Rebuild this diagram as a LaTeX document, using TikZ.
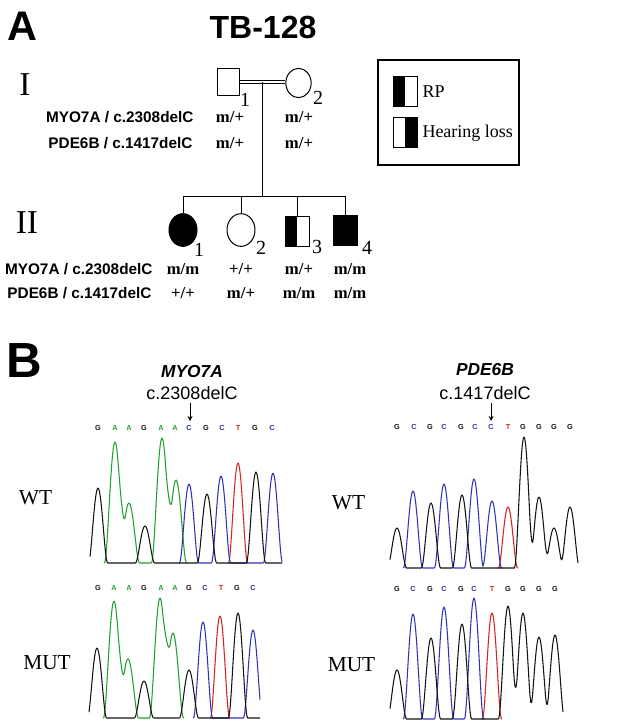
\documentclass[tikz,border=0pt]{standalone}
\usepackage{fontspec}
\setmainfont{Liberation Serif}
\setsansfont{Liberation Sans}
\usetikzlibrary{shapes.geometric, calc}

\definecolor{seqG}{RGB}{20,20,20}
\definecolor{seqA}{RGB}{35,160,45}
\definecolor{seqC}{RGB}{50,50,185}
\definecolor{seqT}{RGB}{215,35,35}

\begin{document}
\begin{tikzpicture}[x=0.75pt, y=-0.75pt, >=stealth, line width=0.75pt,
	declare function={bp(\vv)=max(0,1-\vv*\vv);
		pk(\xx,\cc,\hh)=\hh*bp((\xx-\cc)/9.5)*bp((\xx-\cc)/9.5);
		pw(\xx,\cc,\hh)=\hh*bp((\xx-\cc)/10.5)*bp((\xx-\cc)/10.5);},
	male/.style={draw, rectangle, inner sep=0pt, minimum width=18pt, minimum height=22.5pt},
	female/.style={draw, ellipse, inner sep=0pt, minimum width=21pt, minimum height=24.5pt},
	rp/.style={male, path picture={\fill (path picture bounding box.south west) rectangle (path picture bounding box.north);}},
	hl/.style={male, path picture={\fill (path picture bounding box.south) rectangle (path picture bounding box.north east);}},
	panel/.style={font=\sffamily\bfseries\fontsize{31}{31}\selectfont, inner sep=0pt},
	gen/.style={font=\fontsize{25}{25}\selectfont, inner sep=0pt},
	num/.style={font=\fontsize{15}{15}\selectfont, inner sep=0pt},
	locus/.style={font=\sffamily\bfseries\fontsize{11.5}{12}\selectfont, inner sep=0pt, anchor=east},
	geno/.style={font=\bfseries\fontsize{12.5}{12}\selectfont, inner sep=0pt},
	legtext/.style={font=\fontsize{13.5}{14}\selectfont, inner sep=0pt, anchor=west},
	base/.style={font=\sffamily\bfseries\fontsize{5.5}{6}\selectfont, inner sep=0pt},
	row/.style={font=\fontsize{16}{16}\selectfont, inner sep=0pt},
	trace/.style={line width=0.8pt, line join=round}]

	\useasboundingbox (0,0) rectangle (637,725);

	% ==================== A: pedigree ====================
	\node[panel] (A) at (22,26) {A};
	\node[panel, font=\sffamily\bfseries\fontsize{24}{24}\selectfont] (title) at (263,27.5) {TB-128};

	% generation I
	\node[gen] (genI) at (25,85) {I};
	\node[male, minimum width=16pt, minimum height=20.5pt] (I1) at (228.5,82) {};
	\node[female, minimum width=19pt, minimum height=22pt] (I2) at (298.5,83) {};
	\node[num] (nI1) at (245,100) {1};
	\node[num] (nI2) at (318,98) {2};
	\draw[double, double distance=1.8pt, line width=0.7pt] (I1.east) -- (I2.west |- I1.east);
	\coordinate (mate) at ($(I1.east)!0.5!(I2.west |- I1.east)$);

	\node[locus] (locI1) at (194,117) {MYO7A / c.2308delC};
	\node[locus] (locI2) at (193,143) {PDE6B / c.1417delC};
	\node[geno] (gI1a) at (230,117) {m/+};
	\node[geno] (gI2a) at (299,117) {m/+};
	\node[geno] (gI1b) at (230,143) {m/+};
	\node[geno] (gI2b) at (299,143) {m/+};

	% generation II
	\node[gen] (genII) at (27,223) {II};
	\node[female, fill=black] (II1) at (183,230) {};
	\node[female] (II2) at (241,230) {};
	\node[rp] (II3) at (297,231) {};
	\node[male, fill=black] (II4) at (345,230) {};
	\node[num] (nII1) at (199,250) {1};
	\node[num] (nII2) at (261,248) {2};
	\node[num] (nII3) at (317,247) {3};
	\node[num] (nII4) at (367,248) {4};

	% lines of descent
	\coordinate (sib) at (0,196);
	\draw (mate) -- (mate |- sib);
	\draw (II1.north |- sib) -- (II4.north |- sib);
	\foreach \n in {II1,II2,II3,II4}
		\draw (\n.north) -- (\n.north |- sib);

	\node[locus] (locII1) at (153,269) {MYO7A / c.2308delC};
	\node[locus] (locII2) at (152,293) {PDE6B / c.1417delC};
	\foreach \x/\ga/\gb [count=\i] in {183/m\slash m/+\slash+, 241/+\slash+/m\slash+, 299/m\slash+/m\slash m, 350/m\slash m/m\slash m}{
		\node[geno] (gII\i a) at (\x,269) {\ga};
		\node[geno] (gII\i b) at (\x,293) {\gb};
	}

	% legend
	\node[draw, line width=1.5pt, minimum width=105.75pt, minimum height=78.75pt] (legend) at (448.5,112.5) {};
	\node[rp] (legRP) at (405,91.5) {};
	\node[hl] (legHL) at (405,132) {};
	\node[legtext] (txtRP) at (422,92) {RP};
	\node[legtext] (txtHL) at (422,133) {Hearing loss};

	% ==================== B: chromatograms ====================
	\node[panel, font=\sffamily\bfseries\fontsize{37}{37}\selectfont] (B) at (24.5,361) {B};

	% MYO7A
	\node[font=\sffamily\bfseries\itshape\fontsize{13}{13}\selectfont, inner sep=0pt] (geneL) at (192,372) {MYO7A};
	\node[font=\sffamily\fontsize{13.5}{14}\selectfont, inner sep=0pt] (mutL) at (192,393) {c.2308delC};
	\coordinate (tipL) at (190,421);
	\draw[->, line width=0.7pt, shorten <=2pt] (tipL |- mutL.south) -- (tipL);

	\node[row] (wtL) at (35.5,498) {WT};
	\node[row] (mtL) at (47,663) {MUT};

	\foreach \x/\b in {98/G,115/A,129/A,144/G,161/A,175/A,189/C,206/G,222/C,238/T,255/G,272/C}
		\node[base, text=seq\b] (bwl\x) at (\x,428) {\b};
	\foreach \x/\b in {98/G,114/A,129/A,144/G,161/A,175/A,189/G,205/C,221/T,237/G,253/C}
		\node[base, text=seq\b] (bml\x) at (\x,588) {\b};

	% wild type trace
	\draw[seqA, trace] plot[domain=104:187, samples=100] (\x, {563-pw(\x,115,121)-pw(\x,129,60)-pw(\x,162,125)-pw(\x,176,83)});
	\draw[seqT, trace] plot[domain=228:248, samples=30] (\x, {563-pk(\x,238,100)});
	\draw[seqC, trace] plot[domain=179:282, samples=110] (\x, {563-pk(\x,189,79)-pk(\x,221,87)-pk(\x,273,90)});
	\draw[seqG, trace] plot[domain=90:282, samples=200] (\x, {563-pk(\x,98,75)-pk(\x,145,37)-pk(\x,207,69)-pk(\x,256,91)});

	% mutant trace
	\draw[seqA, trace] plot[domain=103:184, samples=100] (\x, {718-pw(\x,114,117)-pw(\x,128,59)-pw(\x,160,120)-pw(\x,173,85)});
	\draw[seqT, trace] plot[domain=210:230, samples=30] (\x, {718-pk(\x,220,102)});
	\draw[seqC, trace] plot[domain=193:260, samples=80] (\x, {718-pk(\x,203,96)-pk(\x,253,88)});
	\draw[seqG, trace] plot[domain=89:260, samples=180] (\x, {718-pk(\x,97,70)-pk(\x,144,37)-pk(\x,189,48)-pk(\x,238,105)});

	% PDE6B
	\node[font=\sffamily\bfseries\itshape\fontsize{13}{13}\selectfont, inner sep=0pt] (geneR) at (485,370) {PDE6B};
	\node[font=\sffamily\fontsize{13.5}{14}\selectfont, inner sep=0pt] (mutR) at (485,393) {c.1417delC};
	\coordinate (tipR) at (491,421);
	\draw[->, line width=0.7pt, shorten <=2pt] (tipR |- mutR.south) -- (tipR);

	\node[row] (wtR) at (348.5,503) {WT};
	\node[row] (mtR) at (351.5,665) {MUT};

	\foreach \x/\b in {397/G,414/C,430/G,444/C,461/G,475/C,491/C,508/T,523/G,539/G,554/G,570/G}
		\node[base, text=seq\b] (bwr\x) at (\x,427) {\b};
	\foreach \x/\b in {397/G,413/C,430/G,444/C,461/G,474/C,492/T,508/G,523/G,539/G,555/G}
		\node[base, text=seq\b] (bmr\x) at (\x,589) {\b};

	% wild type trace
	\draw[seqT, trace] plot[domain=498:518, samples=30] (\x, {568-pk(\x,508,61)});
	\draw[seqC, trace] plot[domain=403:502, samples=110] (\x, {568-pk(\x,413,77)-pk(\x,444,84)-pk(\x,474,89)-pk(\x,492,67)});
	\draw[seqG, trace] plot[domain=390:578, samples=220] (\x, {568-pk(\x,397,40)-pk(\x,431,65)-pk(\x,462,73)-pk(\x,524,131)-pk(\x,539,71)-pk(\x,554,40)-pk(\x,570,61)});

	% mutant trace
	\draw[seqT, trace] plot[domain=482:502, samples=30] (\x, {719-pk(\x,492,106)});
	\draw[seqC, trace] plot[domain=403:484, samples=90] (\x, {719-pk(\x,413,105)-pk(\x,444,112)-pk(\x,474,121)});
	\draw[seqG, trace] plot[domain=390:563, samples=200] (\x, {719-pk(\x,397,49)-pk(\x,431,81)-pk(\x,462,95)-pk(\x,508,113)-pk(\x,523,106)-pk(\x,539,82)-pk(\x,555,84)});

\end{tikzpicture}
\end{document}
